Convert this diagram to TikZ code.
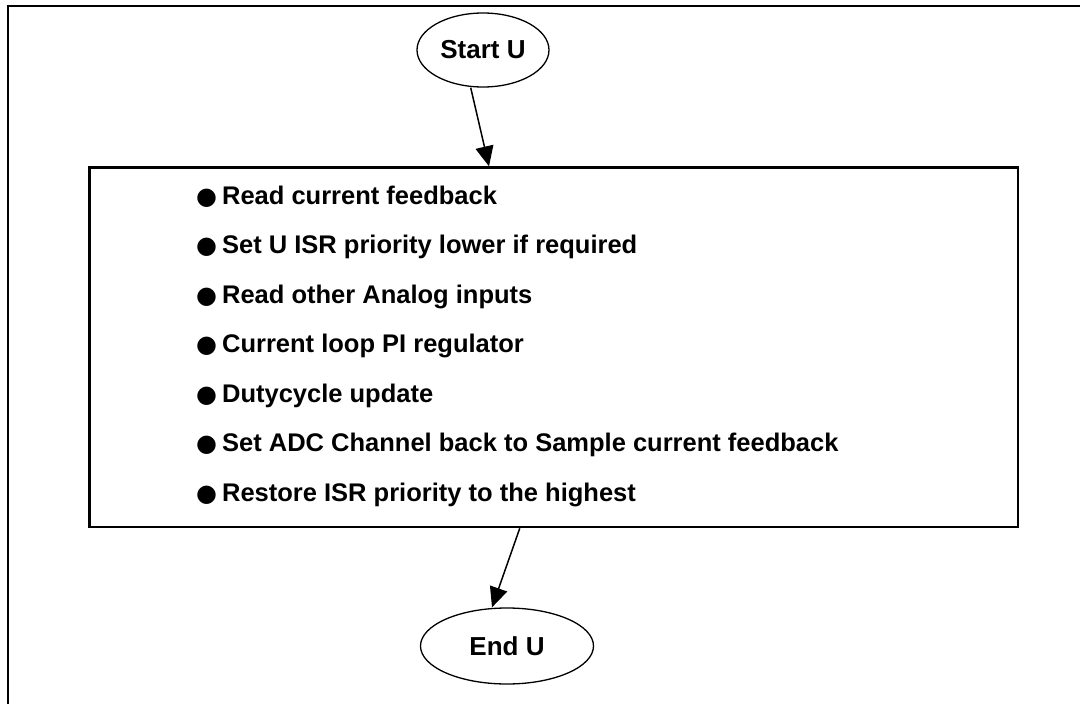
\documentclass[tikz,border=0pt]{standalone}
\usepackage{fontspec}
\setmainfont{Liberation Sans}
\newfontfamily\dejavu{DejaVu Sans}
\usetikzlibrary{shapes.geometric,arrows.meta}
\begin{document}
\begin{tikzpicture}[x=1pt,y=-1pt,
  term/.style={ellipse,draw,line width=1.3pt,inner sep=0pt,font=\fontsize{26}{30}\selectfont\bfseries},
  mainbox/.style={rectangle,draw,line width=2.7pt,inner sep=0pt},
  item/.style={anchor=base west,inner sep=0pt,font=\fontsize{25.5}{30}\selectfont\bfseries},
  arr/.style={line width=1.5pt,-{Triangle[length=20pt,width=18pt]}}]
\useasboundingbox (0,0) rectangle (1080,704);
\draw[line width=2pt] (7.5,720) -- (7.5,6) -- (1100,6);
\node[term,minimum width=132pt,minimum height=74pt] (start) at (483,50) {Start U};
\node[term,minimum width=173pt,minimum height=76pt] (end) at (507,646) {End U};
\node[mainbox,minimum width=928.5pt,minimum height=359.3pt] (box) at (553.75,347.3) {};
\foreach \t [count=\i from 0] in {Read current feedback,Set U ISR priority lower if required,Read other Analog inputs,Current loop PI regulator,Dutycycle update,Set ADC Channel back to Sample current feedback,Restore ISR priority to the highest}{
  \node[item] (it\i) at (196,204+49.5*\i) {{\dejavu\fontsize{24}{28}\selectfont ●}\hspace{5pt}\t};
}
\draw[arr] ([xshift=-12.3pt]start.south) -- ([xshift=-64.75pt]box.north);
\draw[arr] ([xshift=-34pt]box.south) -- ([xshift=-15pt]end.north);
\end{tikzpicture}
\end{document}
